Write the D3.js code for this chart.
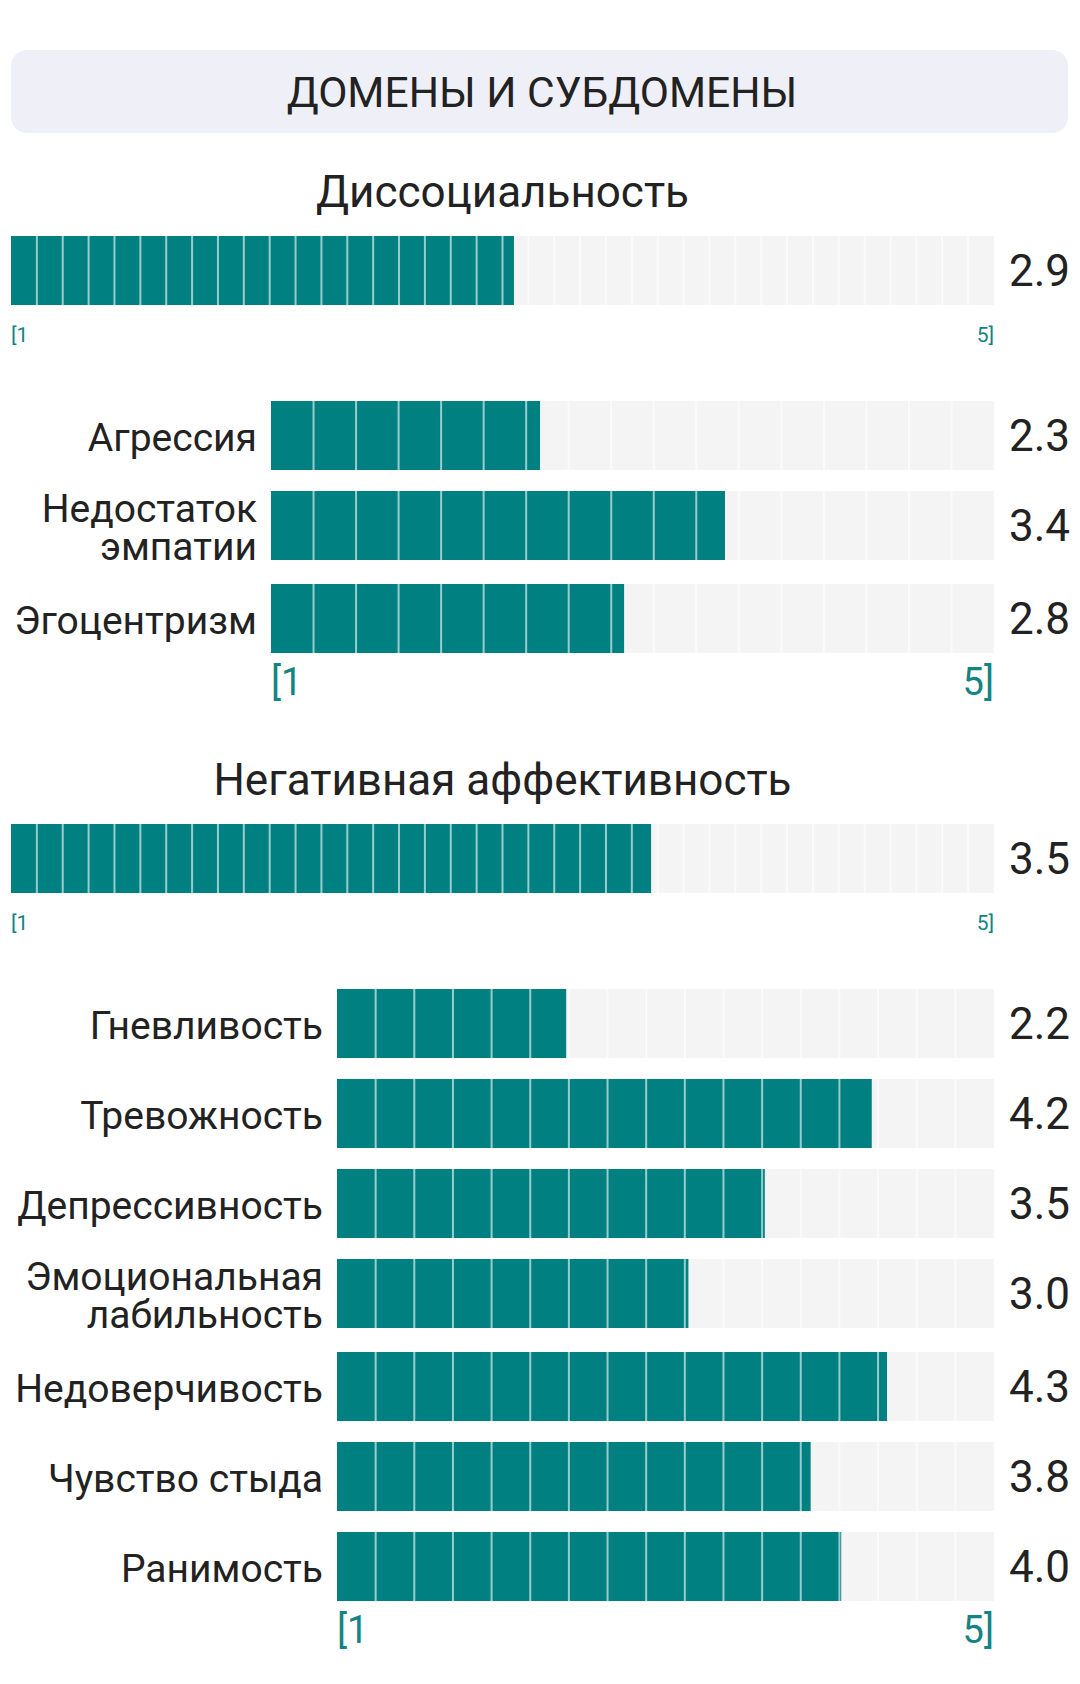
<!DOCTYPE html>
<html>

<head>
    <meta charset="utf-8">
    <script src="https://d3js.org/d3.v7.min.js"></script>
    <style>
        body { margin: 0; background: #fff; }
        text { font-family: Roboto, "Noto Sans", sans-serif; }
    </style>
    <script>
        // values
        let headerTitle = "Домены и субдомены";
        let sectionTitles = ["Диссоциальность", "Негативная аффективность"];
        let domainScores = [2.9, 3.5];
        let dissLabels = [["Агрессия"], ["Недостаток", "эмпатии"], ["Эгоцентризм"]];
        let dissScores = [2.3, 3.4, 2.8];
        let negLabels = [["Гневливость"], ["Тревожность"], ["Депрессивность"],
            ["Эмоциональная", "лабильность"], ["Недоверчивость"], ["Чувство стыда"], ["Ранимость"]];
        let negScores = [2.2, 4.2, 3.5, 3.0, 4.3, 3.8, 4.0];
        let rangeLabels = ["[1", "5]"];
        let scaleMin = 0.7;   // bars start a bit below 1 in the original
        let scaleMax = 5;

        let width = 1080;
        let height = 1684;
        let trackLeft = 11;
        let trackRight = 994;
        let barH = 69;
        let teal = "#008080";
        let ink = "#222222";

        function drawTrack(svg, x0, y, value, cells) {
            let x = d3.scaleLinear().domain([scaleMin, scaleMax]).range([x0, trackRight]);
            let cell = d3.scaleLinear().domain([0, cells]).range([x0, trackRight]);
            let g = svg.append("g");
            g.append("rect")
                .attr("x", x0).attr("y", y)
                .attr("width", trackRight - x0).attr("height", barH)
                .attr("fill", "#f4f4f4");
            g.append("rect")
                .attr("x", x0).attr("y", y)
                .attr("width", x(value) - x0).attr("height", barH)
                .attr("fill", teal);
            g.selectAll("rect.sep")
                .data(d3.range(1, cells))
                .join("rect")
                .attr("class", "sep")
                .attr("x", d => cell(d) - 1)
                .attr("y", y)
                .attr("width", 2)
                .attr("height", barH)
                .attr("fill", "#fff")
                .attr("opacity", 0.6);
            g.append("text")
                .attr("x", trackRight + 15)
                .attr("y", y + barH / 2 + 0.36 * 44)
                .attr("font-size", 44)
                .attr("fill", ink)
                .text(value.toFixed(1));
        }

        function drawRange(svg, x0, baseline, fontSize) {
            svg.selectAll(null)
                .data(rangeLabels)
                .join("text")
                .attr("x", (d, i) => i == 0 ? x0 : trackRight)
                .attr("y", baseline)
                .attr("text-anchor", (d, i) => i == 0 ? "start" : "end")
                .attr("font-size", fontSize)
                .attr("fill", "#148383")
                .text(d => d);
        }

        function draw() {
            let svg = d3.select("body").append("svg")
                .attr("width", width)
                .attr("height", height);

            svg.append("rect")
                .attr("x", 11).attr("y", 50)
                .attr("width", 1057).attr("height", 83)
                .attr("rx", 16)
                .attr("fill", "#eff0f7");
            svg.append("text")
                .attr("x", 542).attr("y", 107)
                .attr("text-anchor", "middle")
                .attr("font-size", 42.5)
                .attr("fill", ink)
                .text(headerTitle.toUpperCase());

            let sections = [
                { labels: dissLabels, scores: dissScores, subLeft: 271 },
                { labels: negLabels, scores: negScores, subLeft: 337 }
            ];

            let y = 207;
            sections.forEach((s, k) => {
                svg.append("text")
                    .attr("x", (trackLeft + trackRight) / 2)
                    .attr("y", y)
                    .attr("text-anchor", "middle")
                    .attr("font-size", 44)
                    .attr("fill", ink)
                    .text(sectionTitles[k]);

                let top = y + 29;
                drawTrack(svg, trackLeft, top, domainScores[k], 38);
                drawRange(svg, trackLeft, top + barH + 37, 21);

                let rowTop = top + barH + 37 + 59;
                let lastTop = rowTop;
                s.scores.forEach((v, i) => {
                    drawTrack(svg, s.subLeft, rowTop, v, 17);
                    let lines = s.labels[i];
                    let mid = rowTop + barH / 2 + 0.36 * 39;
                    svg.append("text")
                        .attr("text-anchor", "end")
                        .attr("font-size", 39)
                        .attr("fill", ink)
                        .selectAll("tspan")
                        .data(lines)
                        .join("tspan")
                        .attr("x", s.subLeft - 14)
                        .attr("y", (d, j) => mid + 1 + (j - (lines.length - 1) / 2) * 38)
                        .text(d => d);
                    lastTop = rowTop;
                    rowTop += 90 + (lines.length > 1 ? 3 : 0);
                });

                let rangeBase = lastTop + barH + 42;
                drawRange(svg, s.subLeft, rangeBase, 38);
                y = rangeBase + 100;
            });
        }
    </script>
</head>

<body>
    <script>
        draw();
    </script>
</body>

</html>
